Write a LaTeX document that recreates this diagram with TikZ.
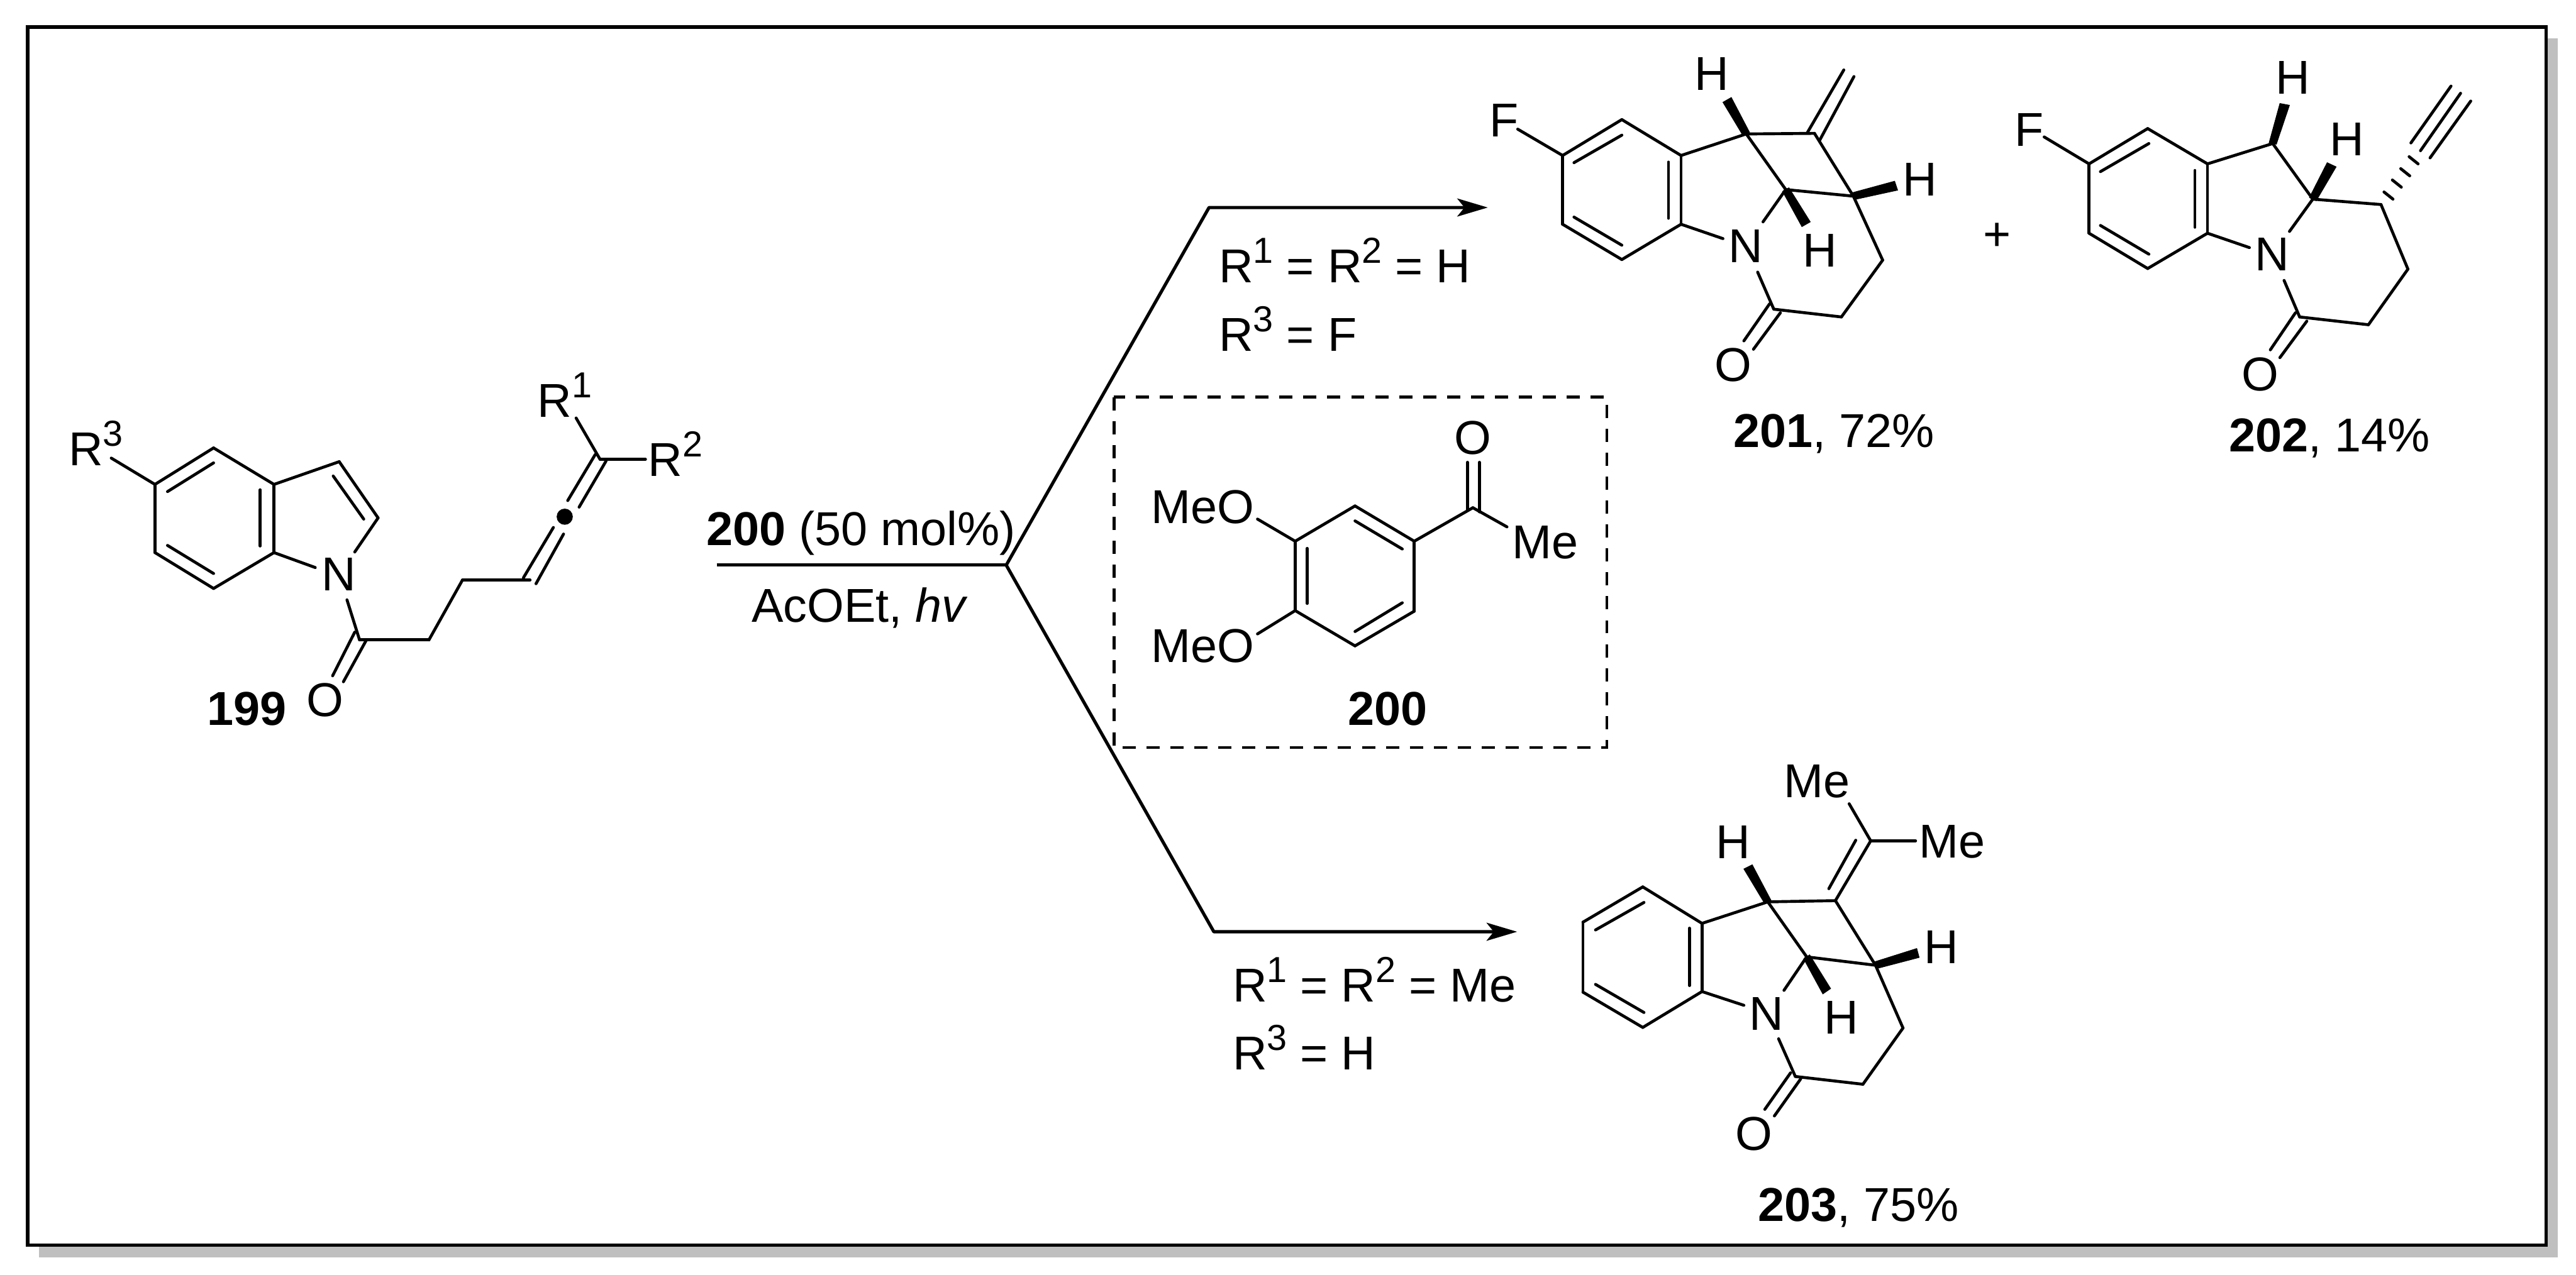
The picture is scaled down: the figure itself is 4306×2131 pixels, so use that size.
\documentclass[tikz,border=0pt]{standalone}
\usepackage{fontspec}
\setmainfont{Liberation Sans}
\usetikzlibrary{arrows.meta,calc}

\newcommand{\chemfont}{\fontsize{22.6pt}{26pt}\selectfont}
\newcommand{\supnum}[1]{\raisebox{0.41em}{\fontsize{17.2pt}{19pt}\selectfont #1}}

\tikzset{
  bond/.style={line width=0.049cm, line cap=round, line join=round},
  rxn/.style={line width=0.054cm, line join=round},
  wedge/.style={fill=black, draw=black, line width=0.01cm},
  atomlabel/.style={anchor=base, inner sep=0pt, font=\chemfont},
  textlabel/.style={anchor=base west, inner sep=0pt, font=\chemfont},
  dotatom/.style={circle, fill=black, inner sep=0pt, minimum size=0.27cm},
  catbox/.style={line width=0.048cm, dash pattern=on 0.22cm off 0.18cm},
  framebox/.style={line width=0.06cm, fill=white, line join=miter}
}
\definecolor{shadowgrey}{HTML}{BFBFBF}

\begin{document}
\begin{tikzpicture} [x=0.01cm, y=-0.01cm, >={Stealth[length=0.51cm,width=0.3cm,inset=0.12cm]}]

\useasboundingbox (0,0) rectangle (4306,2131);

\coordinate (shadow-1) at (65,64);
\coordinate (shadow-2) at (4275,2102);
\coordinate (frame-1) at (46,45);
\coordinate (frame-2) at (4256,2082);
\fill [shadowgrey] (shadow-1) rectangle (shadow-2);
\draw [framebox] (frame-1) rectangle (frame-2);

\foreach \px/\py [count=\i] in {259/810,357/749,458/810,458/924,357/984,259/924,567/772,632/866,601/1070,717/1070,
  773/970,886/970,1003/768,593/923,527/949,580/1003,963/699,1079/768,186/766,
  280/822,357/774,435/819,435/913,280/912,357/959,557/796,608/868,593/1057,556/1130,612/1071,574/1140,
  875/966,925/882,896/976,942/893,949/837,995/760,968/848,1013/771}
  \coordinate (start-\i) at (\px,\py);

\foreach \i/\j in {1/2,2/3,3/4,4/5,5/6,6/1,3/7,7/8,8/14,4/15,16/9,9/10,10/11,11/12,13/17,13/18,1/19,
  20/21,22/23,24/25,26/27,28/29,30/31,32/33,34/35,36/37,38/39}
  \draw [bond] (start-\i) -- (start-\j);

\node [dotatom] (allene) at (944,864) {};

\foreach \px/\py [count=\i] in {2165/905,2265/846,2364/905,2364/1022,2265/1080,2165/1021,2462/849,2102/868,2102/1060,2519/881,
  2265/871,2344/918,2185/917,2185/1009,2265/1056,2344/1008,2453/773,2453/852,2473/773,2473/856}
  \coordinate (cat-\i) at (\px,\py);

\foreach \i/\j in {1/2,2/3,3/4,4/5,5/6,6/1,3/7,7/10,1/8,6/9,11/12,13/14,15/16,17/18,19/20}
  \draw [bond] (cat-\i) -- (cat-\j);

\foreach \px/\py [count=\i] in {2612/260,2711/200,2810/260,2810/375,2711/434,2612/375,2919/224,2985/317,3033/223,3098/328,
  3147/435,3078/530,2965/517,2537/216,2880/399,2947/371,2938/455,
  2631/272,2711/226,2789/271,2789/365,2631/363,2711/410,2958/508,2915/570,2976/523,2931/584,
  3021/222,3082/117,3042/234,3099/128,2880/171,2894/163,3012/379,3026/371,3167/303,3172/318}
  \coordinate (first-\i) at (\px,\py);

\foreach \i/\j in {1/2,2/3,3/4,4/5,5/6,6/1,3/7,7/8,7/9,9/10,8/10,10/11,11/12,12/13,1/14,4/15,8/16,17/13,
  18/19,20/21,22/23,24/25,26/27,28/29,30/31}
  \draw [bond] (first-\i) -- (first-\j);

\foreach \t/\i/\j in {7/32/33,8/34/35,10/36/37}
  \filldraw [wedge] ($(first-\t)+0.38*(first-\j)-0.38*(first-\i)$) -- (first-\j) -- (first-\i) -- ($(first-\t)+0.38*(first-\i)-0.38*(first-\j)$) -- cycle;

\foreach \px/\py [count=\i] in {3492/274,3590/215,3690/274,3690/390,3590/449,3492/390,3799/240,3866/333,3980/342,4025/450,
  3959/543,3844/530,3417/229,3760/414,3827/387,3818/469,
  3511/287,3592/240,3669/285,3669/380,3511/377,3592/425,3837/523,3795/585,3856/537,3811/598,
  4030/239,4097/144,4046/252,4113/156,4062/264,4130/169,
  3985/321,4000/333,3999/301,4014/313,4013/282,4028/294,4027/262,4042/274,
  3811/173,3827/176,3890/272,3905/279}
  \coordinate (second-\i) at (\px,\py);

\foreach \i/\j in {1/2,2/3,3/4,4/5,5/6,6/1,3/7,7/8,8/9,9/10,10/11,11/12,1/13,4/14,8/15,16/12,
  17/18,19/20,21/22,23/24,25/26,27/28,29/30,31/32,33/34,35/36,37/38,39/40}
  \draw [bond] (second-\i) -- (second-\j);

\foreach \t/\i/\j in {7/41/42,8/43/44}
  \filldraw [wedge] ($(second-\t)+0.38*(second-\j)-0.38*(second-\i)$) -- (second-\j) -- (second-\i) -- ($(second-\t)+0.38*(second-\i)-0.38*(second-\j)$) -- cycle;

\foreach \px/\py [count=\i] in {2646/1542,2746/1483,2845/1544,2845/1658,2746/1718,2646/1659,2955/1508,3020/1600,3068/1506,3135/1614,
  3181/1719,3114/1813,3001/1800,3127/1406,2915/1681,2982/1656,2973/1737,3091/1344,3202/1406,
  2667/1555,2748/1509,2824/1552,2824/1648,2667/1646,2748/1693,2993/1794,2950/1855,3010/1804,2966/1866,3102/1405,3057/1486,
  2915/1453,2929/1446,3047/1662,3060/1653,3204/1586,3208/1601}
  \coordinate (third-\i) at (\px,\py);

\foreach \i/\j in {1/2,2/3,3/4,4/5,5/6,6/1,3/7,7/8,7/9,9/10,8/10,10/11,11/12,12/13,9/14,14/18,14/19,4/15,8/16,17/13,
  20/21,22/23,24/25,26/27,28/29,30/31}
  \draw [bond] (third-\i) -- (third-\j);

\foreach \t/\i/\j in {7/32/33,8/34/35,10/36/37}
  \filldraw [wedge] ($(third-\t)+0.38*(third-\j)-0.38*(third-\i)$) -- (third-\j) -- (third-\i) -- ($(third-\t)+0.38*(third-\i)-0.38*(third-\j)$) -- cycle;

\foreach \px/\py [count=\i] in {2861/151,3042/446,3209/328,3833/157,3923/260,2897/1435,3078/1729,3245/1611}
  \node [atomlabel] (hydrogen-\i) at (\px,\py) {H};

\foreach \px/\py [count=\i] in {566/988,2918/439,3798/453,2953/1722}
  \node [atomlabel] (nitrogen-\i) at (\px,\py) {N};

\foreach \px/\py [count=\i] in {543/1198,2462/760,2897/638,3778/653,2932/1923}
  \node [atomlabel] (oxygen-\i) at (\px,\py) {O};

\foreach \px/\py [count=\i] in {2489/229,3367/244}
  \node [textlabel] (fluorine-\i) at (\px,\py) {F};

\foreach \px/\py [count=\i] in {2527/934,2981/1334,3207/1434}
  \node [textlabel] (methyl-\i) at (\px,\py) {Me};

\foreach \py [count=\i] in {875,1107}
  \node [textlabel] (methoxy-\i) at (1924,\py) {MeO};

\foreach \l/\px/\py in {1/898/697,2/1083/796,3/114/778}
  \node [textlabel] (group-\l) at (\px,\py) {R\supnum{\l}};

\node [textlabel] (name-199) at (346,1213) {\textbf{199}};
\node [textlabel] (name-200) at (2253,1213) {\textbf{200}};
\node [textlabel] (name-201) at (2897,748) {\textbf{201}, 72\%};
\node [textlabel] (name-202) at (3725,755) {\textbf{202}, 14\%};
\node [textlabel] (name-203) at (2938,2042) {\textbf{203}, 75\%};

\node [textlabel] (reagent) at (1180,912) {\textbf{200} (50 mol\%)};
\node [textlabel] (solvent) at (1256,1040) {AcOEt, \textit{hv}};
\node [textlabel] (plus) at (3314,419) {+};

\node [textlabel] (topCaseOne) at (2037,473) {R\supnum{1} = R\supnum{2} = H};
\node [textlabel] (topCaseTwo) at (2037,587) {R\supnum{3} = F};
\node [textlabel] (lowCaseOne) at (2060,1675) {R\supnum{1} = R\supnum{2} = Me};
\node [textlabel] (lowCaseTwo) at (2060,1789) {R\supnum{3} = H};

\coordinate (lineStart) at (1198,945);
\coordinate (branch) at (1682,945);
\coordinate (topCorner) at (2021,347);
\coordinate (topTip) at (2487,347);
\coordinate (lowCorner) at (2029,1558);
\coordinate (lowTip) at (2536,1558);

\draw [rxn] (lineStart) -- (branch);
\draw [rxn, ->] (branch) -- (topCorner) -- (topTip);
\draw [rxn, ->] (branch) -- (lowCorner) -- (lowTip);

\coordinate (catBox-1) at (1862,664);
\coordinate (catBox-2) at (2686,1250);
\draw [catbox] (catBox-1) rectangle (catBox-2);

\end{tikzpicture}
\end{document}
